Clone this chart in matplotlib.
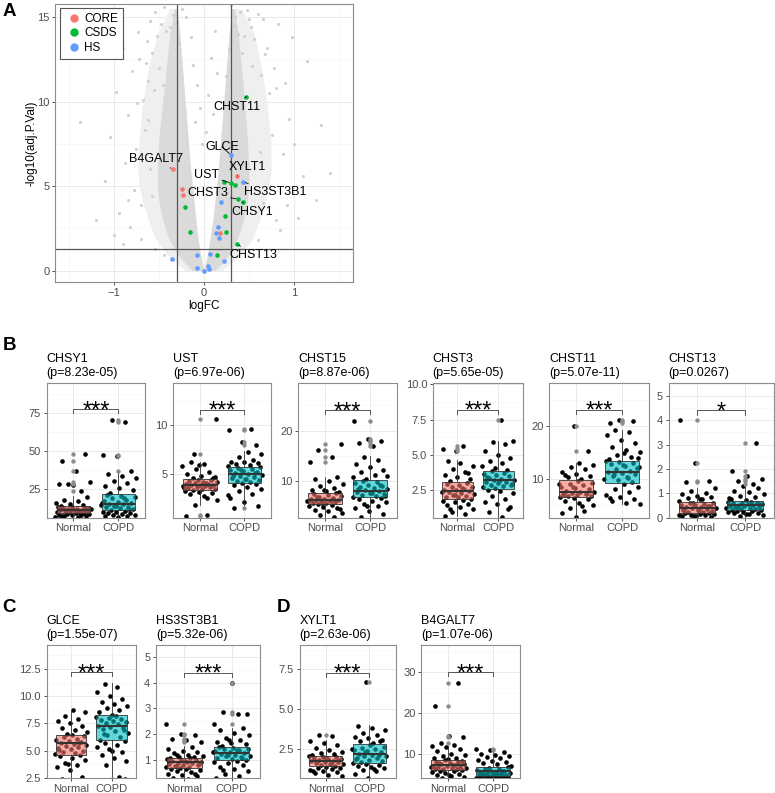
import matplotlib
matplotlib.use('Agg')
import matplotlib.pyplot as plt
from matplotlib.lines import Line2D

plt.rcParams['font.family'] = ['Liberation Sans', 'DejaVu Sans']

W, H = 775, 793

# ---------------- panel A: volcano ----------------
# envelope of the dense grey cloud of all genes (logFC bounds per -log10 p level)
cloud_p = [0.0, 0.5, 1.0, 2.0, 3.0, 4.0, 5.0, 6.0, 8.0, 10.0, 12.0, 14.0, 15.5]
halo_left = [-0.2, -0.32, -0.42, -0.55, -0.62, -0.68, -0.72, -0.74, -0.72, -0.68, -0.62, -0.52, -0.38]
core_left = [-0.13, -0.22, -0.3, -0.4, -0.46, -0.5, -0.52, -0.52, -0.5, -0.46, -0.42, -0.38, -0.33]
gap_left = [0.0, -0.02, -0.04, -0.07, -0.09, -0.11, -0.13, -0.15, -0.18, -0.21, -0.24, -0.27, -0.3]
gap_right = [0.0, 0.02, 0.04, 0.07, 0.1, 0.12, 0.14, 0.16, 0.19, 0.22, 0.25, 0.28, 0.31]
core_right = [0.12, 0.21, 0.29, 0.38, 0.44, 0.48, 0.5, 0.5, 0.48, 0.45, 0.42, 0.38, 0.34]
halo_right = [0.19, 0.31, 0.42, 0.55, 0.62, 0.68, 0.72, 0.75, 0.74, 0.7, 0.64, 0.56, 0.42]

# sparse grey genes outside the dense cloud
sparse_fc = [-1.38, -1.25, -1.1, -1.05, -0.98, -0.95, -0.9, -0.88, -0.85, -0.82, -0.8, -0.78,
             -0.76, -0.74, -0.72, -0.7, -0.68, -0.66, -0.64, -0.62, -0.6, -0.58, -0.55, -0.52,
             -0.48, -0.45, -0.42, -0.2, -0.15, -0.12, -0.08, -0.05, -0.1, -0.02, 0.02, 0.05,
             0.08, 0.1, 0.12, 0.15, -0.6, -0.85, -1.2, -0.9, -0.55, -0.45, 0.5, 0.6, 0.85,
             1.05, 1.25, 1.4, 1.3, 1.15, 0.98, 0.9, 0.95, 0.88, 0.82, 0.78, 0.76, 0.74, 0.72,
             0.7, 0.66, 0.64, 0.6, 0.56, 0.52, 0.48, 0.42, 0.38, 0.34, 0.28, 0.25, 0.22, 1.0,
             1.1, 0.92, 0.8, -0.7, -1.0, -0.62, -0.56, -0.58, 0.62, 0.66, 0.58, 0.54, -0.5, -0.46,
             -0.35, -0.3, -0.25, -0.38, -0.28, 0.35, 0.4, 0.45, 0.3, 0.5, -0.65, 0.68, -0.75, 0.8]
sparse_p = [8.8, 12.7, 5.3, 7.9, 10.6, 3.4, 13.2, 6.4, 9.2, 2.6, 11.8, 4.8,
            7.2, 14.1, 12.5, 3.9, 10.1, 8.3, 13.6, 11.2, 14.8, 12.9, 15.3, 13.9,
            14.6, 15.6, 14.2, 15.0, 13.8, 12.2, 11.0, 9.6, 8.8, 7.5, 8.2, 10.4,
            12.6, 9.3, 14.2, 11.7, 6.0, 4.2, 3.0, 1.6, 1.3, 0.9, 1.2, 1.8, 2.4,
            3.1, 4.2, 5.8, 8.6, 12.4, 13.8, 11.1, 9.0, 6.9, 14.6, 12.0, 8.0, 5.0, 10.5,
            13.2, 14.9, 11.6, 15.2, 13.7, 14.4, 15.4, 12.9, 14.0, 15.0, 13.1, 11.5, 10.0, 7.5,
            5.6, 3.9, 3.0, 1.9, 2.1, 8.9, 10.7, 4.4, 7.0, 4.0, 9.6, 12.1, 12.0, 11.0,
            15.1, 14.7, 15.5, 14.4, 13.5, 14.5, 15.3, 13.9, 15.7, 14.9, 12.3, 12.8, 9.9, 10.8]

core_fc = [-0.35, 0.37, -0.25, -0.235, 0.18]
core_p = [6.0, 5.6, 4.85, 4.46, 2.21]
csds_fc = [0.47, 0.22, 0.30, 0.35, 0.38, 0.43, 0.37, -0.21, -0.16, 0.23, 0.24, 0.145]
csds_p = [10.3, 5.25, 5.18, 5.07, 4.23, 4.05, 1.58, 3.79, 2.27, 3.22, 2.31, 0.93]
hs_fc = [0.30, 0.44, 0.19, 0.16, 0.135, 0.17, -0.08, 0.07, -0.36, -0.075, 0.004, 0.045, 0.06, 0.22]
hs_p = [6.84, 5.25, 4.06, 2.6, 2.21, 1.93, 0.93, 0.99, 0.67, 0.18, 0.0, 0.28, 0.08, 0.56]

label_names = ['CHST11', 'GLCE', 'B4GALT7', 'XYLT1', 'UST', 'HS3ST3B1', 'CHST3', 'CHSY1', 'CHST13']
label_fc = [0.47, 0.30, -0.35, 0.37, 0.30, 0.44, 0.38, 0.43, 0.37]
label_p = [10.3, 6.84, 6.0, 5.6, 5.18, 5.25, 4.23, 4.05, 1.58]
label_text_fc = [0.365, 0.198, -0.54, 0.48, 0.03, 0.79, 0.04, 0.54, 0.55]
label_text_p = [9.70, 7.34, 6.61, 6.12, 5.66, 4.64, 4.58, 3.49, 0.93]

# ---------------- panels B-D: boxplots ----------------
box_genes = ['CHSY1', 'UST', 'CHST15', 'CHST3', 'CHST11', 'CHST13',
             'GLCE', 'HS3ST3B1', 'XYLT1', 'B4GALT7']
box_pvals = ['8.23e-05', '6.97e-06', '8.87e-06', '5.65e-05', '5.07e-11', '0.0267',
             '1.55e-07', '5.32e-06', '2.63e-06', '1.07e-06']
box_signif = ['***', '***', '***', '***', '***', '*', '***', '***', '***', '***']
groups = ['Normal', 'COPD']

# (whisker low, q1, median, q3, whisker high)
normal_stats = [(6.5, 9.0, 11.0, 13.5, 20.0), (1.9, 3.4, 3.9, 4.5, 6.2), (3.0, 5.5, 6.25, 7.7, 10.9),
                (0.7, 1.86, 2.48, 3.07, 4.64), (2.8, 6.6, 7.6, 9.8, 13.0), (0.0, 0.2, 0.41, 0.65, 1.22),
                (2.4, 4.63, 5.67, 6.46, 8.66), (0.25, 0.67, 0.91, 1.08, 1.52), (0.74, 1.37, 1.72, 2.04, 3.05),
                (3.9, 6.0, 7.2, 8.45, 11.8)]
copd_stats = [(6.5, 11.3, 15.0, 21.7, 36.0), (1.8, 4.15, 5.0, 5.75, 7.4), (3.0, 6.85, 8.0, 10.2, 14.9),
              (0.6, 2.62, 3.21, 3.88, 6.0), (5.3, 9.3, 11.4, 13.5, 19.4), (0.02, 0.31, 0.5, 0.68, 1.33),
              (2.6, 5.94, 7.23, 8.23, 11.2), (0.25, 0.97, 1.24, 1.5, 2.25), (0.63, 1.58, 2.16, 2.77, 4.0),
              (3.9, 4.5, 5.6, 6.8, 10.5)]
normal_out = [[23.5, 28.0, 29.5, 37.0, 43.5, 48.0], [0.75, 0.8, 7.1, 10.6], [13.9, 14.8, 16.2, 17.3],
              [5.25, 5.45, 5.6], [15.3, 20.0], [1.45, 1.5, 2.25, 4.0], [],
              [1.7, 1.75, 1.8, 1.95, 2.0, 2.4], [3.35], [12.5, 14.0, 14.4, 21.8, 27.3]]
copd_out = [[37.0, 46.5, 47.0, 69.0, 70.5], [1.5, 8.0, 8.3, 9.5, 9.6], [17.0, 17.5, 18.0, 18.3, 22.0],
            [7.5], [20.7, 21.0, 21.2], [1.4, 1.5, 1.6, 1.7, 1.9, 3.07], [2.4],
            [2.4, 2.8, 2.85, 4.0], [6.7], [10.9, 11.2]]

chsy1_normal = [6.6, 6.8, 7.0, 7.2, 7.5, 7.7, 8.0, 8.2, 8.5, 8.8, 6.9, 9.2, 9.5, 9.8, 10.0, 10.2, 10.5,
                10.8, 11.0, 11.2, 11.5, 11.8, 12.0, 12.3, 12.6, 13.0, 13.3, 9.7, 10.9, 12.1, 11.4,
                14.0, 14.5, 15.2, 16.0, 17.0, 18.0, 19.5, 27.5, 28.5, 23.5, 28.0, 29.5, 37.0, 43.5, 48.0]
chsy1_copd = [6.7, 7.0, 7.3, 7.6, 8.0, 8.4, 8.8, 9.2, 9.6, 10.0, 10.5, 11.0, 11.8, 12.3, 12.8, 13.3,
              13.8, 14.3, 14.8, 15.3, 15.8, 16.5, 17.2, 18.0, 18.8, 19.5, 20.3, 21.0, 12.0, 14.0, 16.0,
              19.0, 22.5, 24.0, 25.5, 27.0, 29.0, 30.5, 32.0, 33.5, 35.0, 37.0, 46.5, 47.0, 69.0, 70.5]
ust_normal = [1.9, 2.4, 2.8, 3.0, 3.1, 3.2, 3.3, 2.6, 3.35, 3.45, 3.5, 3.6, 3.65, 3.7, 3.75, 3.8, 3.85,
              3.9, 3.95, 4.0, 4.05, 4.1, 4.2, 4.25, 4.3, 4.4, 4.45, 3.55, 4.15, 4.6, 4.7, 4.8, 5.0,
              5.2, 5.5, 5.8, 6.0, 6.2, 4.65, 5.9, 0.75, 0.8, 7.1, 10.6]
ust_copd = [1.8, 2.2, 2.6, 3.0, 3.3, 3.5, 3.7, 3.9, 4.0, 4.1, 2.9, 4.2, 4.3, 4.4, 4.5, 4.6, 4.7, 4.8,
            4.9, 5.0, 5.1, 5.2, 5.3, 5.4, 5.5, 5.6, 5.7, 4.55, 4.85, 5.15, 5.45, 5.8, 5.9, 6.0, 6.1,
            6.2, 6.3, 6.5, 6.8, 7.1, 7.3, 1.5, 8.0, 8.3, 9.5, 9.6]
chst15_normal = [3.0, 3.4, 3.8, 4.1, 4.4, 4.7, 4.9, 5.1, 5.3, 5.4, 4.5, 5.6, 5.7, 5.8, 5.9, 6.0, 6.1,
                 6.2, 6.3, 6.4, 6.5, 6.6, 6.8, 7.0, 7.2, 7.4, 7.6, 5.75, 6.05, 6.35, 6.9, 7.8, 8.0,
                 8.3, 8.6, 9.0, 9.5, 10.0, 10.5, 10.9, 8.2, 13.9, 14.8, 16.2, 17.3]
chst15_copd = [3.0, 3.6, 4.2, 4.7, 5.1, 5.5, 5.8, 6.1, 6.4, 6.7, 5.0, 6.9, 7.1, 7.3, 7.5, 7.7, 7.9,
               8.0, 8.2, 8.4, 8.6, 8.8, 9.0, 9.3, 9.6, 9.9, 10.1, 7.0, 7.6, 8.5, 9.2, 10.4, 10.8,
               11.3, 11.8, 12.3, 12.9, 13.5, 14.2, 14.8, 11.0, 17.0, 17.5, 18.0, 18.3, 22.0]
chst3_normal = [0.7, 0.85, 1.0, 1.15, 1.3, 1.45, 1.55, 1.65, 1.75, 1.8, 1.2, 1.9, 2.0, 2.05, 2.1, 2.2,
                2.25, 2.3, 2.4, 2.45, 2.5, 2.55, 2.6, 2.7, 2.75, 2.85, 2.95, 3.0, 2.15, 2.35, 2.65,
                3.15, 3.3, 3.45, 3.6, 3.8, 4.0, 4.2, 4.4, 4.6, 3.7, 5.25, 5.45, 5.6]
chst3_copd = [0.6, 1.0, 1.3, 1.5, 1.7, 1.9, 2.1, 2.3, 2.45, 2.55, 1.2, 2.65, 2.7, 2.8, 2.85, 2.9, 3.0,
              3.05, 3.1, 3.2, 3.25, 3.3, 3.4, 3.5, 3.55, 3.65, 3.75, 3.85, 2.95, 3.15, 3.45, 3.95,
              4.05, 4.2, 4.4, 4.6, 4.8, 5.0, 5.3, 5.8, 5.9, 6.0, 7.5]
chst11_normal = [2.8, 3.5, 4.0, 4.5, 5.0, 5.4, 5.8, 6.1, 6.3, 6.5, 4.8, 6.7, 6.8, 7.0, 7.1, 7.2, 7.4,
                 7.5, 7.6, 7.8, 8.0, 8.2, 8.5, 8.8, 9.0, 9.3, 9.6, 6.9, 7.3, 8.4, 9.1, 10.0, 10.3,
                 10.6, 11.0, 11.4, 11.8, 12.2, 12.6, 13.0, 10.8, 15.3, 20.0]
chst11_copd = [5.3, 5.5, 5.8, 6.2, 6.6, 7.0, 7.5, 8.0, 8.5, 9.0, 6.4, 9.5, 9.8, 10.0, 10.3, 10.6, 10.9,
               11.2, 11.4, 11.6, 11.9, 12.2, 12.5, 12.8, 13.0, 13.2, 13.4, 10.1, 11.0, 12.0, 12.7,
               13.8, 14.2, 14.6, 15.2, 15.5, 16.0, 16.8, 17.5, 18.3, 19.0, 19.4, 14.0, 15.0, 20.7,
               21.0, 21.2]
chst13_normal = [0.02, 0.05, 0.08, 0.1, 0.12, 0.14, 0.16, 0.18, 0.19, 0.06, 0.11, 0.22, 0.25, 0.28,
                 0.3, 0.32, 0.35, 0.38, 0.4, 0.42, 0.45, 0.48, 0.5, 0.52, 0.55, 0.58, 0.62, 0.27,
                 0.36, 0.47, 0.6, 0.7, 0.75, 0.8, 0.85, 0.9, 0.95, 1.0, 1.1, 1.2, 0.78, 1.45, 1.5,
                 2.25, 4.0]
chst13_copd = [0.05, 0.1, 0.14, 0.18, 0.2, 0.22, 0.25, 0.27, 0.29, 0.3, 0.16, 0.32, 0.34, 0.36, 0.38,
               0.4, 0.42, 0.44, 0.46, 0.48, 0.5, 0.52, 0.54, 0.56, 0.58, 0.6, 0.62, 0.64, 0.66, 0.45,
               0.57, 0.72, 0.78, 0.85, 0.9, 0.98, 1.05, 1.1, 1.2, 1.3, 0.8, 1.4, 1.5, 1.6, 1.7, 1.9,
               3.07]
glce_normal = [2.4, 2.6, 3.2, 3.5, 3.7, 3.9, 4.1, 4.3, 4.5, 4.6, 3.8, 4.7, 4.8, 4.9, 5.0, 5.1, 5.2,
               5.3, 5.4, 5.5, 5.6, 5.7, 5.8, 5.9, 6.0, 6.1, 6.2, 6.3, 6.4, 5.05, 5.65, 6.55, 6.7,
               6.9, 7.1, 7.3, 7.5, 7.7, 7.9, 8.2, 8.5, 8.7]
glce_copd = [2.6, 3.7, 4.0, 4.3, 4.6, 4.9, 5.1, 5.3, 5.5, 5.7, 5.85, 5.0, 6.0, 6.2, 6.4, 6.6, 6.8,
             7.0, 7.1, 7.2, 7.3, 7.4, 7.5, 7.6, 7.7, 7.8, 7.9, 8.0, 8.1, 8.2, 6.5, 6.9, 8.3, 8.5,
             8.7, 8.9, 9.1, 9.3, 9.5, 9.7, 10.0, 10.4, 10.8, 11.1, 2.4]
hs3st3b1_normal = [0.25, 0.3, 0.35, 0.4, 0.45, 0.5, 0.55, 0.6, 0.63, 0.65, 0.42, 0.68, 0.7, 0.72,
                   0.75, 0.78, 0.8, 0.82, 0.85, 0.88, 0.9, 0.92, 0.95, 0.98, 1.0, 1.02, 1.05, 0.74,
                   0.84, 0.94, 1.06, 1.1, 1.12, 1.15, 1.2, 1.25, 1.3, 1.35, 1.4, 1.5, 1.18, 1.7,
                   1.75, 1.8, 1.95, 2.0, 2.4]
hs3st3b1_copd = [0.28, 0.35, 0.45, 0.55, 0.65, 0.72, 0.8, 0.86, 0.92, 0.95, 0.6, 1.0, 1.03, 1.06,
                 1.1, 1.13, 1.16, 1.2, 1.23, 1.26, 1.3, 1.33, 1.36, 1.4, 1.43, 1.46, 1.49, 1.08,
                 1.18, 1.28, 1.38, 1.55, 1.6, 1.65, 1.7, 1.78, 1.85, 1.95, 2.05, 2.15, 2.25, 1.75,
                 2.4, 2.8, 2.85, 2.78, 4.0]
xylt1_normal = [0.74, 0.85, 0.95, 1.0, 1.1, 1.15, 1.2, 1.25, 1.3, 1.35, 1.05, 1.4, 1.45, 1.5, 1.55,
                1.6, 1.62, 1.66, 1.7, 1.74, 1.78, 1.82, 1.86, 1.9, 1.94, 1.98, 2.02, 1.52, 1.68,
                1.8, 1.92, 2.1, 2.15, 2.2, 2.3, 2.4, 2.55, 2.7, 2.85, 3.0, 3.3, 3.35]
xylt1_copd = [0.65, 0.9, 1.05, 1.15, 1.25, 1.35, 1.42, 1.48, 1.52, 1.56, 1.2, 1.62, 1.7, 1.78, 1.85,
              1.92, 2.0, 2.06, 2.12, 2.18, 2.25, 2.32, 2.4, 2.48, 2.55, 2.62, 2.7, 1.88, 2.08, 2.28,
              2.5, 2.85, 2.95, 3.05, 3.15, 3.25, 3.35, 3.5, 3.65, 3.8, 3.95, 3.0, 6.7]
b4galt7_normal = [3.95, 4.2, 4.5, 4.8, 5.0, 5.2, 5.4, 5.6, 5.8, 5.9, 4.6, 6.1, 6.2, 6.3, 6.4, 6.5,
                  6.6, 6.8, 6.9, 7.0, 7.1, 7.3, 7.4, 7.6, 7.8, 8.0, 8.3, 6.7, 7.2, 7.7, 8.1, 8.6,
                  8.8, 9.0, 9.3, 9.6, 10.0, 10.5, 11.0, 11.5, 11.8, 12.0, 12.5, 14.0, 14.4, 21.8, 27.3]
b4galt7_copd = [3.95, 4.0, 4.1, 4.15, 4.2, 4.25, 4.3, 4.35, 4.4, 4.45, 4.05, 4.6, 4.7, 4.8, 4.9,
                5.0, 5.1, 5.2, 5.3, 5.4, 5.5, 5.6, 5.7, 5.9, 6.1, 6.3, 6.6, 4.75, 5.25, 5.75, 6.4,
                7.0, 7.3, 7.6, 7.9, 8.2, 8.5, 8.8, 9.1, 9.4, 9.7, 10.0, 10.4, 10.9, 11.2]

normal_points = [chsy1_normal, ust_normal, chst15_normal, chst3_normal, chst11_normal,
                 chst13_normal, glce_normal, hs3st3b1_normal, xylt1_normal, b4galt7_normal]
copd_points = [chsy1_copd, ust_copd, chst15_copd, chst3_copd, chst11_copd,
               chst13_copd, glce_copd, hs3st3b1_copd, xylt1_copd, b4galt7_copd]

box_ylim = [(6.1, 94.9), (0.57, 14.35), (2.8, 29.5), (0.57, 10.1), (2.65, 28.3), (0.0, 5.54),
            (2.45, 14.7), (0.27, 5.48), (0.62, 9.04), (3.9, 36.7)]
box_yticks = [[25, 50, 75], [5, 10], [10, 20], [2.5, 5.0, 7.5, 10.0], [10, 20], [0, 1, 2, 3, 4, 5],
              [2.5, 5.0, 7.5, 10.0, 12.5], [1, 2, 3, 4, 5], [2.5, 5.0, 7.5], [10, 20, 30]]
bracket_y = [77.6, 11.6, 24.1, 8.2, 23.2, 4.4, 12.2, 4.4, 7.3, 30.0]

# panel frames in pixels: left, right, top, bottom
box_frames = [(46.5, 145.3, 382.7, 517.6), (173.4, 271.0, 382.7, 517.6), (298.0, 397.0, 382.7, 517.6),
              (432.7, 523.0, 382.7, 517.6), (549.0, 649.4, 382.7, 517.6), (668.7, 774.0, 382.7, 517.6),
              (46.6, 136.0, 645.0, 778.3), (155.9, 260.0, 645.0, 778.3), (299.5, 395.5, 645.0, 778.3),
              (421.3, 520.3, 645.0, 778.3)]

RED = '#F8766D'
GREEN = '#00BA38'
BLUE = '#619CFF'
TEAL = '#00BFC4'


def px_axes(fig, l, r, t, b):
    return fig.add_axes([l / W, 1 - b / H, (r - l) / W, (b - t) / H])


def theme_bw(ax):
    ax.set_facecolor('white')
    for s in ax.spines.values():
        s.set_color('#8c8c8c')
        s.set_linewidth(0.8)
    ax.tick_params(axis='both', which='major', length=2.5, width=0.6, color='#333333',
                   labelcolor='#4d4d4d', labelsize=8, pad=1.5)
    ax.tick_params(axis='both', which='minor', length=0)
    ax.grid(True, which='major', color='#e6e6e6', lw=0.6)
    ax.grid(True, which='minor', color='#f3f3f3', lw=0.4)
    ax.set_axisbelow(True)


fig = plt.figure(figsize=(W / 100, H / 100), dpi=100)

# ---------- volcano ----------
ax = px_axes(fig, 55, 353, 4, 282)
theme_bw(ax)
ax.fill_betweenx(cloud_p, halo_left, gap_left, color='#efefef', lw=0, zorder=1)
ax.fill_betweenx(cloud_p, gap_right, halo_right, color='#efefef', lw=0, zorder=1)
ax.fill_betweenx(cloud_p, core_left, gap_left, color='#dadada', lw=0, zorder=1.1)
ax.fill_betweenx(cloud_p, gap_right, core_right, color='#dadada', lw=0, zorder=1.1)
ax.scatter(sparse_fc, sparse_p, s=5, color='#d0d0d0', lw=0, zorder=1.2)
ax.axvline(-0.3, color='#555555', lw=0.9, zorder=2)
ax.axvline(0.3, color='#555555', lw=0.9, zorder=2)
ax.axhline(1.301, color='#555555', lw=0.9, zorder=2)
ax.scatter(core_fc, core_p, s=11, color=RED, lw=0, zorder=3)
ax.scatter(csds_fc, csds_p, s=11, color=GREEN, lw=0, zorder=3)
ax.scatter(hs_fc, hs_p, s=11, color=BLUE, lw=0, zorder=3)
for name, fx, fy, tx, ty in zip(label_names, label_fc, label_p, label_text_fc, label_text_p):
    ax.annotate(name, (fx, fy), xytext=(tx, ty), textcoords='data', ha='center', va='center',
                fontsize=9, zorder=4,
                arrowprops=dict(arrowstyle='-', color='black', lw=0.6, shrinkA=0, shrinkB=1.5))
ax.set_xlim(-1.66, 1.66)
ax.set_ylim(-0.67, 15.78)
ax.set_xticks([-1, 0, 1])
ax.set_xticks([-1.5, -0.5, 0.5, 1.5], minor=True)
ax.set_yticks([0, 5, 10, 15])
ax.set_yticks([2.5, 7.5, 12.5], minor=True)
ax.set_xlabel('logFC', fontsize=8.5, labelpad=2)
ax.set_ylabel('-log10(adj.P.Val)', fontsize=8.5, labelpad=0)
handles = [Line2D([], [], marker='o', ls='', color=c, markersize=5, label=l)
           for c, l in zip([RED, GREEN, BLUE], ['CORE', 'CSDS', 'HS'])]
leg = ax.legend(handles=handles, loc='upper left', bbox_to_anchor=(0.017, 0.985), fontsize=8.5,
                frameon=True, fancybox=False, edgecolor='#555555', framealpha=1,
                handletextpad=0.15, borderpad=0.4, labelspacing=0.22, handlelength=1.5,
                borderaxespad=0)
leg.get_frame().set_linewidth(0.8)

# ---------- boxplots ----------
for k, gene in enumerate(box_genes):
    l, r, t, b = box_frames[k]
    ax = px_axes(fig, l, r, t, b)
    theme_bw(ax)
    for gi, (pts, stats, outs, col) in enumerate(
            [(normal_points[k], normal_stats[k], normal_out[k], RED),
             (copd_points[k], copd_stats[k], copd_out[k], TEAL)]):
        pos = gi + 1
        n = len(pts)
        xs = [pos + (((i * 0.618034 + 0.37 * k + 0.5 * gi) % 1.0) - 0.5) * 0.8 for i in range(n)]
        ax.scatter(xs, pts, s=11, color='black', lw=0, zorder=2)
        wl, q1, med, q3, wh = stats
        ax.bxp([dict(whislo=wl, q1=q1, med=med, q3=q3, whishi=wh, fliers=[])],
               positions=[pos], widths=0.75, patch_artist=True, showcaps=False,
               showfliers=False, manage_ticks=False,
               boxprops=dict(facecolor=matplotlib.colors.to_rgba(col, 0.6),
                             edgecolor='#333333', lw=0.6),
               medianprops=dict(color='#333333', lw=1.5),
               whiskerprops=dict(color='#333333', lw=0.6), zorder=3)
        ax.scatter([pos] * len(outs), outs, s=10, color='#8c8c8c', lw=0, zorder=4)
    lo, hi = box_ylim[k]
    ax.set_ylim(lo, hi)
    ax.set_xlim(0.4, 2.6)
    ticks = box_yticks[k]
    step = ticks[1] - ticks[0]
    minors = [v - step / 2 for v in ticks] + [ticks[-1] + step / 2]
    ax.set_yticks(ticks)
    ax.set_yticks([m for m in minors if lo < m < hi], minor=True)
    if step == 2.5:
        ax.set_yticklabels(['%.1f' % v for v in ticks])
    ax.set_xticks([1, 2])
    ax.set_xticklabels(groups)
    # significance bracket
    by = bracket_y[k]
    tip = 0.03 * (hi - lo)
    ax.plot([1, 1, 2, 2], [by - tip, by, by, by - tip], color='#555555', lw=0.7, zorder=5)
    ax.annotate(box_signif[k], (1.5, by), xytext=(0, -6), textcoords='offset points',
                ha='center', va='baseline', fontsize=17, zorder=6)
    ax.annotate('%s\n(p=%s)' % (gene, box_pvals[k]), (0, 1), xycoords='axes fraction',
                xytext=(0, 3), textcoords='offset points', ha='left', va='bottom',
                fontsize=9, linespacing=1.2)

# panel letters
for letter, x, y in [('A', 9, 11), ('B', 9, 345), ('C', 9, 608), ('D', 284, 608)]:
    fig.text(x / W, 1 - y / H, letter, fontsize=13.5, fontweight='bold', ha='center', va='center')

fig.savefig('out.png', dpi=100)
